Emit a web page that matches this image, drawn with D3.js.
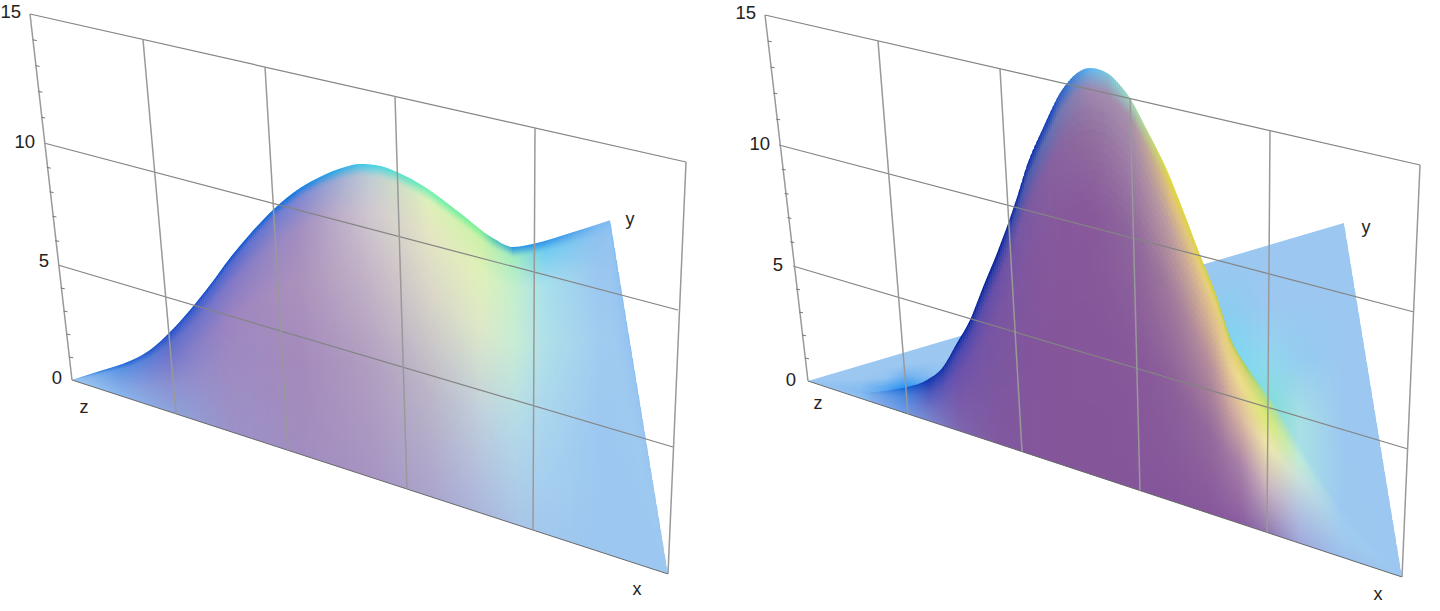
<!DOCTYPE html>
<html><head><meta charset="utf-8">
<script src="https://cdn.jsdelivr.net/npm/d3@7/dist/d3.min.js"></script>
<style>html,body{margin:0;padding:0;background:#fff}svg{display:block}</style>
</head><body><svg id="c" width="1440" height="611"></svg>
<script>
// ---- values ----
const zTicks = [0, 5, 10, 15];
const zMinor = [1,2,3,4,6,7,8,9,11,12,13,14];
const gridCols = [0, 1, 2, 3, 4, 5];
const axisLabels = ["x", "y", "z"];

// crest of each surface: position along the front edge (%), height above that edge (z units)
const leftCrestPos = [0,4.7,9.73,13.09,16.44,19.8,23.15,26.5,29.87,33.7,38.26,41.6,45.8,48.3,51.7,54.5,59.2,65.1,70.6,74,77.3,83.6,90.3,100];
const leftCrestVal = [0,.74,1.55,2.27,3.27,4.44,5.73,7.11,8.36,9.65,10.91,11.63,12.37,12.69,12.88,12.86,12.62,12.02,11.43,11.33,11.72,12.67,13.73,0];
const rightCrestPos = [10.44,13.8,16.67,20.03,22.73,25.08,27.27,29.46,31.82,34,35.19,36.87,39.56,42.42,45.29,47.47,50.34,54.21,57.07,60.44,63.13,65.99,68.85,71.04,73.9,77.44,81.1,86.2,92.9,100];
const rightCrestVal = [.39,.74,1.09,1.65,2.4,3.57,4.69,6.22,7.8,9.41,10.37,11.82,13.55,15.21,16.26,16.64,16.67,15.95,14.87,13.5,12.08,10.47,8.98,7.51,6.51,5.57,4.51,3.07,1.36,0];

// colour tables: columns along the front edge (%), rows from front edge (0) to crest (1)
const leftTStops = [0,.35,.65,.85,.965,1];
const rightTStops = [0,.35,.65,.85,.95,1];
const leftColorPos = [0,8,16.4,26.5,38.3,50,60,68.5,74.3,79.3,88.6,100];
const leftColors = [
 ["#9cc7f0","#8ab6ec","#8ca4dc","#9b92c8","#a18dc0","#a794c2","#aba4cc","#abb6dc","#a9c4e6","#a2c8ee","#9cc7f0","#9cc7f0"],
 ["#9cc7f0","#7da8e6","#8b8fd0","#9d8bc2","#a48abc","#b09ec0","#bcb6c8","#c0d0dc","#b4dae8","#aad4ee","#9cc7f0","#9cc7f0"],
 ["#9cc7f0","#6a9ce4","#7478cc","#9c84c0","#ab92bc","#c4b6c8","#d8d4c8","#dde8c8","#c8ecd4","#b0e0e8","#a0ccf0","#9cc7f0"],
 ["#90c0f0","#5a94e4","#5c6ecc","#8078c8","#a38ec0","#d0c8d0","#e4e4c4","#e0f0b8","#c4eecc","#a8e0ec","#9ac6f0","#9cc7f0"],
 ["#70b0f0","#2a70dc","#3058cc","#5068d0","#7f88d4","#c0ccd4","#e0f0b8","#ccf0a8","#a0ecc0","#70ccf0","#90c2f0","#9cc7f0"],
 ["#5aa4ee","#1060d8","#0c4cc8","#0a50d0","#1480e4","#48d0e8","#70eeb0","#70ee90","#2090e4","#2a90e8","#7ab8f0","#9cc7f0"]
];
const rightColorPos = [10.4,16.3,20.5,25.6,32.3,40.7,47.5,54.2,60.9,67.6,72.7,77.4,82.8,89.6,100];
const rightColors = [
 ["#86b0ea","#6f9ce4","#7a86cc","#7e65ae","#80589f","#85559a","#85559a","#85559a","#85559a","#87579b","#8a5ca0","#9078b0","#a0a8dc","#9cc0ec","#9cc7f0"],
 ["#82aeea","#5c90e2","#6a70c4","#7858a8","#7c56a0","#85559a","#86569a","#87579a","#8a5e9a","#94699c","#a880a8","#d0b8c0","#b4c4e0","#a0c8ec","#9cc7f0"],
 ["#7eaeea","#4a88e0","#4c58bc","#6a50ac","#7a55a2","#85589c","#88589a","#8c649c","#a07a9c","#b8909c","#dcb8a0","#f0e8a8","#c8e0dc","#a0ccf0","#9cc7f0"],
 ["#74a8ea","#3078dc","#2a44b4","#4a48b0","#6a50a8","#86609f","#90709f","#a080a8","#c0a0a0","#dcb890","#f0dc90","#d8e870","#c0ecd8","#9ecaf0","#9cc7f0"],
 ["#70aaec","#1a68d8","#1838b0","#2038ac","#3040a8","#6070b4","#a088b0","#a890ac","#e0c080","#e8d080","#e0d070","#b8e080","#b0e4e0","#9cc8f0","#9cc7f0"],
 ["#8cc0f0","#0c70e0","#0a30b0","#061e98","#061e98","#1440c0","#60b8f0","#a0d8c0","#e0d840","#d8d040","#a8c850","#a0e0a0","#a8e0e4","#9cc8f0","#9cc7f0"]
];
const floorStops = [0,.2,.4,.6,.8,1];
const floorColorPos = [0,8.8,13,16.3,22.2,32.3,66,71,77.4,82.8,90.2,100];
const floorColors = [
 ["#9cc7f0","#8ebff0","#72b0ee","#5ca4ee","#60a0ee","#9cc7f0","#9cc7f0","#9cc7f0","#9cc7f0","#a8e0e4","#9cc8f0","#9cc7f0"],
 ["#9cc7f0","#84baf0","#50a0f0","#3c92ee","#5098ee","#9cc7f0","#80d8f0","#80d8f0","#80d8e0","#a8e0e4","#9cc8f0","#9cc7f0"],
 ["#9cc7f0","#8cc0f0","#60aaf0","#2090f0","#60a8f0","#9cc7f0","#80d8f0","#78d8f0","#78e0d0","#a8e0e4","#9cc7f0","#9cc7f0"],
 ["#9cc7f0","#9cc7f0","#94c4f0","#70b0f0","#90c2f0","#9cc7f0","#80d0f0","#78d8f0","#90d8ee","#94ccf0","#9cc7f0","#9cc7f0"],
 ["#9cc7f0","#9cc7f0","#9cc7f0","#9cc7f0","#9cc7f0","#9cc7f0","#90ccf0","#8cccf0","#9cc7f0","#9cc7f0","#9cc7f0","#9cc7f0"],
 ["#9cc7f0","#9cc7f0","#9cc7f0","#9cc7f0","#9cc7f0","#9cc7f0","#9cc7f0","#9cc7f0","#9cc7f0","#9cc7f0","#9cc7f0","#9cc7f0"]
];

// ---- layout ----
const layouts = [
 { id:"L", wallLeftX:[72,58,44,30], wallLeftY:[380,265,143,14], wallRightX:[668,673,678,686], wallRightY:[574,447,310,162],
   colTopX:[30,143,265,395,535,686], colBottomX:[72,176,288,407,533,668],
   corner:[610,220], unit:24.4, band:0, colW:2,
   crestPos:leftCrestPos, crestVal:leftCrestVal, colorPos:leftColorPos, colors:leftColors, tStops:leftTStops,
   labelsPos:{x:[637,595],y:[630,225],z:[84,413]}, tickPos:[[62,384],[49,267],[35,148],[21,18]] },
 { id:"R", wallLeftX:[808,793,779,765], wallLeftY:[381,266,145,15], wallRightX:[1402,1408,1414,1420], wallRightY:[577,449,312,165],
   colTopX:[765,878,1000,1130,1270,1420], colBottomX:[808,908,1022,1140,1267,1402],
   corner:[1344,223], unit:24.4, band:40, colW:2,
   crestPos:rightCrestPos, crestVal:rightCrestVal, colorPos:rightColorPos, colors:rightColors, tStops:rightTStops,
   floor:{colorPos:floorColorPos, colors:floorColors},
   labelsPos:{x:[1378,600],y:[1366,233],z:[818,409]}, tickPos:[[796,386],[783,271],[770,150],[756,19]] }
];

const svg = d3.select("#c"), defs = svg.append("defs");
const FONT = "'Liberation Sans', Arial, sans-serif";

function colorAt(pos, stops, table){
  const rows = table.map(r => d3.scaleLinear().domain(pos).range(r).interpolate(d3.interpolateRgb).clamp(true));
  return (p, t) => {
    let i = d3.bisectRight(stops, t) - 1;
    i = Math.max(0, Math.min(stops.length - 2, i));
    const f = (t - stops[i]) / (stops[i+1] - stops[i]);
    return d3.interpolateRgb(rows[i](p), rows[i+1](p))(f);
  };
}

layouts.forEach(L => {
  const g = svg.append("g");
  const z0 = L.wallLeftX[0], z1 = L.wallRightX[0];
  const pct = d3.scaleLinear().domain([0,100]).range([z0, z1]);
  const frontY = d3.scaleLinear().domain([z0, z1]).range([L.wallLeftY[0], L.wallRightY[0]]);
  const height = d3.scaleLinear().domain([0,15]).range([0, L.unit*15]);
  const lx = d3.scaleLinear().domain(zTicks).range(L.wallLeftX), ly = d3.scaleLinear().domain(zTicks).range(L.wallLeftY);
  const rx = d3.scaleLinear().domain(zTicks).range(L.wallRightX), ry = d3.scaleLinear().domain(zTicks).range(L.wallRightY);
  const topX = d3.scaleLinear().domain(gridCols).range(L.colTopX), botX = d3.scaleLinear().domain(gridCols).range(L.colBottomX);
  const topY = d3.scaleLinear().domain([L.wallLeftX[3], L.wallRightX[3]]).range([L.wallLeftY[3], L.wallRightY[3]]);

  function paint(pathD, name, x0, x1, topAt, color, bands){
    const cid = "clip"+L.id+name;
    defs.append("clipPath").attr("id",cid).append("path").attr("d",pathD);
    const layer = g.append("g").attr("clip-path",`url(#${cid})`);
    const xs = d3.range(x0, x1, L.colW);
    const smooth = d3.range(0,.9,.05).concat(d3.range(.9,1.001,.01));
    xs.forEach((x,k) => {
      const xm = x + L.colW/2, p = pct.invert(xm), yb = frontY(xm), yt = topAt(xm);
      const gid = `g${L.id}${name}${k}`;
      const lg = defs.append("linearGradient").attr("id",gid).attr("gradientUnits","userSpaceOnUse")
        .attr("x1",0).attr("x2",0).attr("y1",yb).attr("y2",yt);
      if (bands){
        for(let b=0;b<bands;b++){
          const a=b/bands, c=(b+1)/bands;
          if (a >= .9) break;
          const col=color(p,(a+c)/2);
          lg.append("stop").attr("offset",a).attr("stop-color",col);
          lg.append("stop").attr("offset",c).attr("stop-color",col);
        }
        d3.range(.9,1.001,.01).forEach(t => lg.append("stop").attr("offset",t).attr("stop-color",color(p,t)));
      } else {
        smooth.forEach(t => lg.append("stop").attr("offset",t).attr("stop-color",color(p,t)));
      }
      layer.append("rect").attr("x",x).attr("width",L.colW+.4)
        .attr("y",Math.min(yt,yb)-2).attr("height",Math.abs(yb-yt)+4).attr("fill",`url(#${gid})`);
    });
  }

  const crestX = L.crestPos.map(p => pct(p));
  const crestY = L.crestVal.map((v,i) => frontY(crestX[i]) - height(v));
  const pts = crestX.map((x,i) => [x, crestY[i]]);
  const crestAt = d3.scaleLinear().domain(crestX).range(crestY);
  const curve = d3.line().curve(d3.curveMonotoneX);

  if (L.floor){
    const ck = L.corner;
    const floorTop = d3.scaleLinear().domain([z0, ck[0], z1]).range([L.wallLeftY[0], ck[1], L.wallRightY[0]]);
    const d = `M${z0},${L.wallLeftY[0]}L${ck[0]},${ck[1]}L${z1},${L.wallRightY[0]}Z`;
    paint(d,"f",z0,z1,floorTop,colorAt(L.floor.colorPos,floorStops,L.floor.colors),0);
  }
  const n = pts.length;
  const d = curve(pts.slice(0,n-1)) + `L${pts[n-1][0]},${pts[n-1][1]}` +
            (L.floor ? `L${crestX[0]},${frontY(crestX[0])}Z` : `L${z0},${L.wallLeftY[0]}Z`);
  paint(d,"s",crestX[0],z1,x=>crestAt(x),colorAt(L.colorPos,L.tStops,L.colors),L.band);

  const line = (a,b,c,e,w,col) => g.append("line").attr("x1",a).attr("y1",b).attr("x2",c).attr("y2",e)
      .attr("stroke",col).attr("stroke-width",w);
  zTicks.forEach(v => line(lx(v),ly(v),rx(v),ry(v),v===0?1:1.2,v===0?"#6a6a6a":"#848484"));
  gridCols.forEach(i => {
    const a=topX(i), b=botX(i);
    line(a,topY(a),b,frontY(b),1.5,"#999");
  });
  zMinor.forEach(v => line(lx(v),ly(v),lx(v)+4,ly(v)+.8,1,"#777"));

  g.selectAll("text.t").data(zTicks).join("text").attr("class","t")
    .attr("x",(d,i)=>L.tickPos[i][0]).attr("y",(d,i)=>L.tickPos[i][1])
    .attr("text-anchor","end").attr("font-family",FONT).attr("font-size",18.5).attr("fill","#222").text(d=>d);
  g.selectAll("text.a").data(axisLabels).join("text").attr("class","a")
    .attr("x",d=>L.labelsPos[d][0]).attr("y",d=>L.labelsPos[d][1])
    .attr("text-anchor","middle").attr("font-family",FONT).attr("font-size",18).attr("fill","#222").text(d=>d);
});
</script></body></html>
